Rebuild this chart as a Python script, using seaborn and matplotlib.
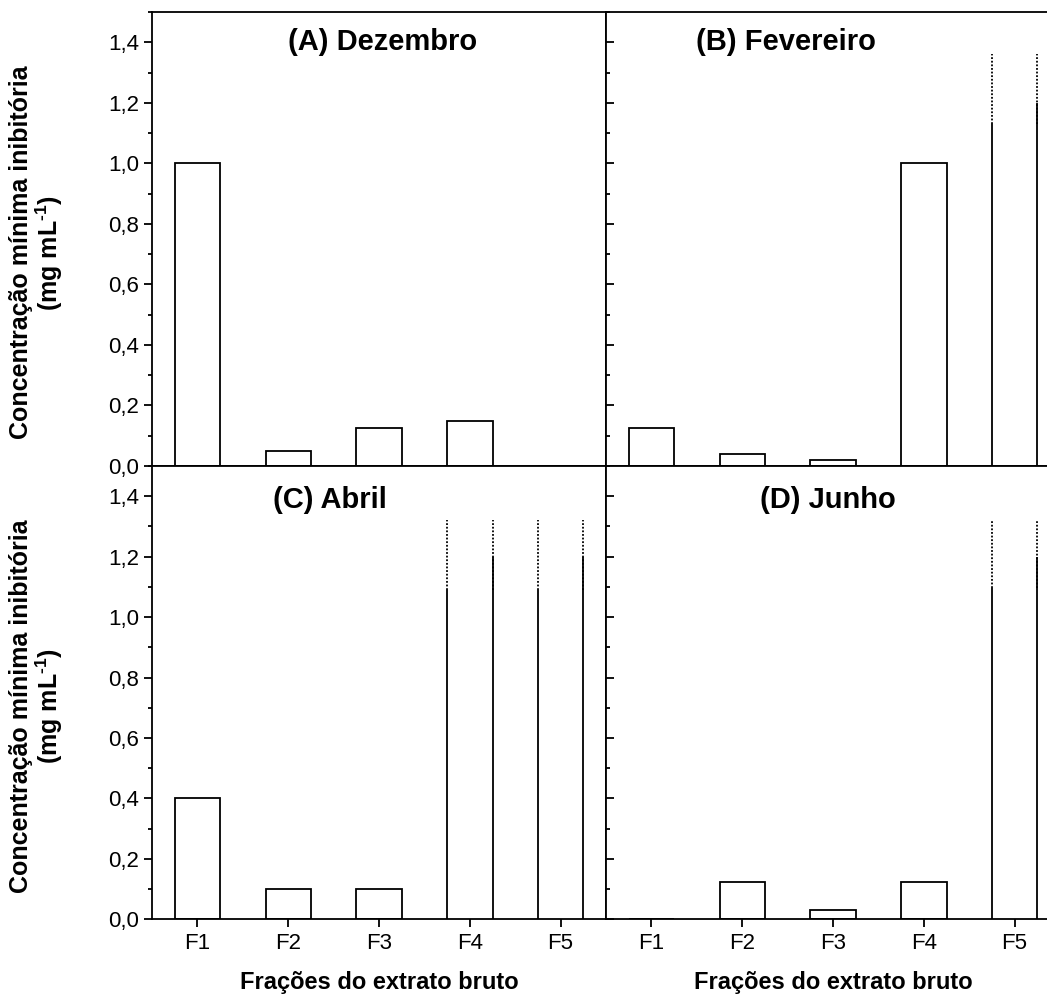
import numpy as np
import pandas as pd
import matplotlib
matplotlib.use('Agg')
import matplotlib.pyplot as plt
import seaborn as sns
from matplotlib.ticker import MultipleLocator, FuncFormatter

# Data
fracoes = ['F1', 'F2', 'F3', 'F4', 'F5']
dezembro = [1.0, 0.05, 0.125, 0.15, 0.0]
fevereiro = [0.125, 0.04, 0.02, 1.0, 1.36]
abril = [0.4, 0.1, 0.1, 1.32, 1.32]
junho = [0.0, 0.125, 0.03, 0.125, 1.32]
# off-scale bars (open top): height where the solid left edge stops, 0 = normal bar
fev_corte = [0, 0, 0, 0, 1.13]
abr_corte = [0, 0, 0, 1.09, 1.09]
jun_corte = [0, 0, 0, 0, 1.095]
dez_corte = [0, 0, 0, 0, 0]
quebra = 1.2  # solid right edge of the off-scale bars

titulos = ['(A) Dezembro', '(B) Fevereiro', '(C) Abril', '(D) Junho']
ylab = 'Concentração mínima inibitória\n(mg mL$^{\\text{-1}}$)'
xlab = 'Frações do extrato bruto'

sns.set_style('ticks')
plt.rcParams['font.family'] = ['Liberation Sans', 'DejaVu Sans']
plt.rcParams['mathtext.fontset'] = 'custom'
plt.rcParams['mathtext.rm'] = 'Liberation Sans:bold'
plt.rcParams['mathtext.bf'] = 'Liberation Sans:bold'
for k in ('text.color', 'axes.labelcolor', 'xtick.color', 'ytick.color', 'axes.edgecolor'):
    plt.rcParams[k] = 'black'
plt.rcParams['axes.linewidth'] = 1.3

fig = plt.figure(figsize=(10.47, 9.96), dpi=100)
W, H = 1047, 996
ax_w, ax_h = 454 / W, 454 / H
pos = {
    'A': [152 / W, (H - 466) / H, ax_w, ax_h],
    'B': [606 / W, (H - 466) / H, ax_w, ax_h],
    'C': [152 / W, (H - 919.3) / H, ax_w, 453.3 / H],
    'D': [606 / W, (H - 919.3) / H, ax_w, 453.3 / H],
}
paineis = [
    ('A', dezembro, dez_corte, 0.507, 0.935),
    ('B', fevereiro, fev_corte, 0.396, 0.935),
    ('C', abril, abr_corte, 0.392, 0.925),
    ('D', junho, jun_corte, 0.489, 0.925),
]

fmt = FuncFormatter(lambda v, p: f'{v:.1f}'.replace('.', ','))

for (key, vals, cortes, tx, ty), titulo in zip(paineis, titulos):
    ax = fig.add_axes(pos[key])
    df = pd.DataFrame({'fracao': fracoes, 'cim': vals})
    sns.barplot(data=df, x='fracao', y='cim', order=fracoes, color='white',
                edgecolor='black', linewidth=1.3, width=0.5, saturation=1,
                errorbar=None, ax=ax)

    # open-top bars drawn as two edges with a dotted extension
    for patch, topo, corte in zip(ax.patches, vals, cortes):
        if not corte:
            continue
        patch.set_visible(False)
        x0 = patch.get_x()
        x1 = x0 + patch.get_width()
        ax.vlines(x0, 0, corte, color='black', lw=1.3)
        ax.vlines(x1, 0, quebra, color='black', lw=1.3)
        ax.vlines([x0, x1], corte, topo, color='black', lw=1.3,
                  linestyles=(0, (1, 1)))

    ax.set_xlim(-0.5, 4.5)
    ax.set_ylim(0, 1.5)
    ax.yaxis.set_major_locator(MultipleLocator(0.2))
    ax.yaxis.set_minor_locator(MultipleLocator(0.1))
    ax.yaxis.set_major_formatter(fmt)
    for s in ax.spines.values():
        s.set_linewidth(1.3)
        s.set_color('black')

    esquerda = key in ('A', 'C')
    baixo = key in ('C', 'D')
    ax.tick_params(axis='x', which='major', direction='out', length=5.5,
                   width=1.3, pad=4.5, labelsize=16, labelbottom=baixo)
    ax.tick_params(axis='y', which='major', direction='out' if esquerda else 'in',
                   length=5.5, width=1.3, pad=3.6, labelsize=16,
                   labelleft=esquerda)
    ax.tick_params(axis='y', which='minor', direction='out' if esquerda else 'in',
                   length=3, width=1.3)

    ax.set_xlabel(xlab if baixo else '', fontsize=17, fontweight='bold', va='center')
    ax.xaxis.set_label_coords(0.5, -0.139)
    ax.set_ylabel(ylab if esquerda else '', fontsize=18, fontweight='bold',
                  va='center', linespacing=1.05)
    ax.yaxis.set_label_coords(-0.253, 0.47)

    ax.text(tx, ty, titulo, transform=ax.transAxes, ha='center', va='center',
            fontsize=21, fontweight='bold')

fig.savefig('out.png', dpi=100)
plt.close(fig)
